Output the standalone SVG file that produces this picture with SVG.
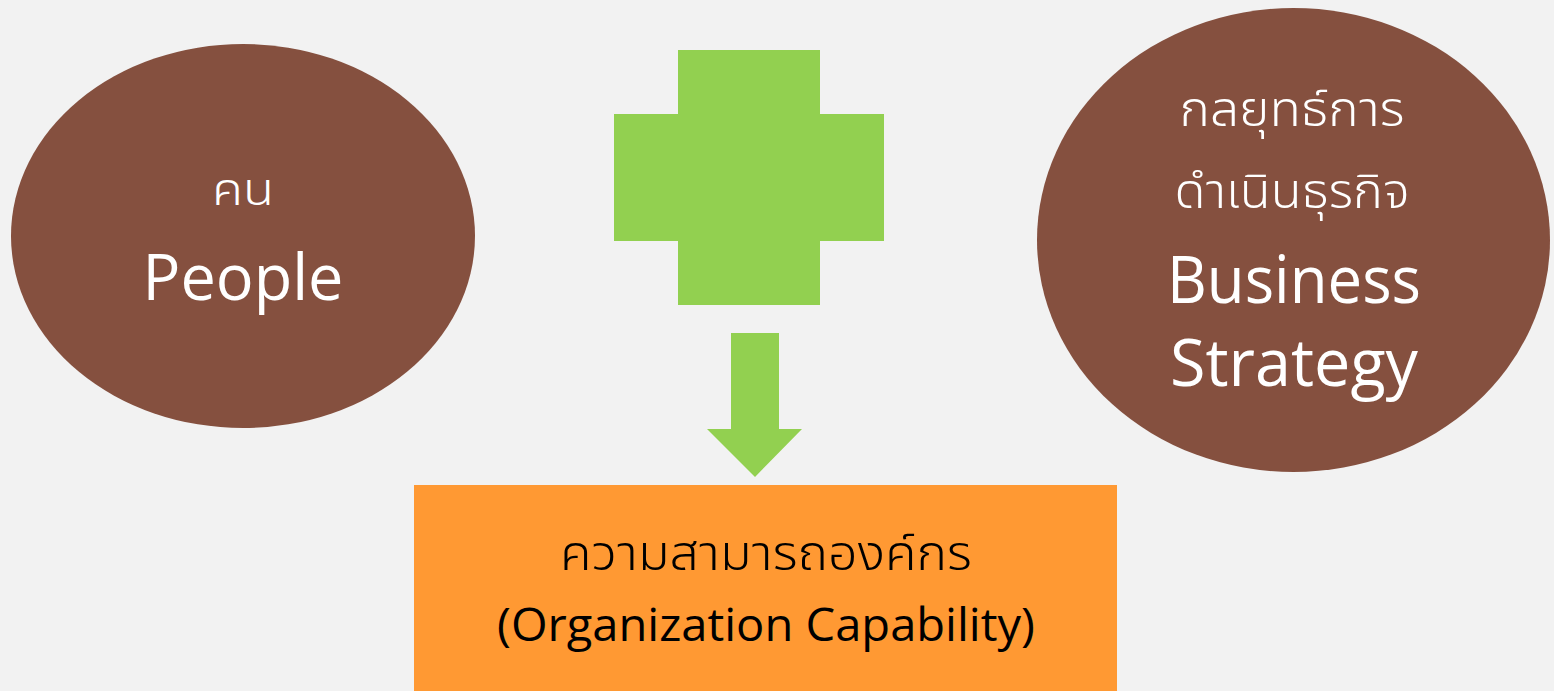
<svg xmlns="http://www.w3.org/2000/svg" width="1554" height="691" viewBox="0 0 1554 691">
<style>
.ell{fill:#85503F;}
.wt{fill:#FFFFFF;font-family:"Open Sans","Noto Sans","Noto Sans Thai","DejaVu Sans",sans-serif;text-anchor:middle;}
.bt{fill:#000000;font-family:"Open Sans","Noto Sans","Noto Sans Thai","DejaVu Sans",sans-serif;text-anchor:middle;}
.th{font-weight:300;}
.green{fill:#92D050;}
</style>
<rect x="0" y="0" width="1554" height="691" fill="#F2F2F2"/>
<g id="people">
<ellipse class="ell" cx="243" cy="236" rx="232" ry="192"/>
<text class="wt th" x="243" y="205" font-size="44" textLength="62" lengthAdjust="spacingAndGlyphs">คน</text>
<text class="wt" x="243" y="300" font-size="64" textLength="201" lengthAdjust="spacingAndGlyphs">People</text>
</g>
<g id="strategy">
<ellipse class="ell" cx="1293.5" cy="240" rx="256.5" ry="232"/>
<text class="wt th" x="1292" y="126" font-size="48" textLength="225" lengthAdjust="spacingAndGlyphs">กลยุทธ์การ</text>
<text class="wt th" x="1292" y="208" font-size="48" textLength="235" lengthAdjust="spacingAndGlyphs">ดำเนินธุรกิจ</text>
<text class="wt" x="1294" y="303" font-size="66" textLength="254" lengthAdjust="spacingAndGlyphs">Business</text>
<text class="wt" x="1294" y="386" font-size="66" textLength="248" lengthAdjust="spacingAndGlyphs">Strategy</text>
</g>
<g id="plus">
<path class="green" d="M678,50 H820 V114 H884 V241 H820 V305 H678 V241 H614 V114 H678 Z"/>
</g>
<g id="capability">
<rect x="414" y="485" width="703" height="206" fill="#FF9933"/>
<text class="bt th" x="766" y="570" font-size="48" textLength="412" lengthAdjust="spacingAndGlyphs">ความสามารถองค์กร</text>
<text class="bt" x="766" y="641" font-size="46" textLength="538" lengthAdjust="spacingAndGlyphs">(Organization  Capability)</text>
</g>
<g id="connectors">
<path class="green" d="M731,333 H779 V429 H802 L755,477 L707,429 H731 Z"/>
</g>
</svg>
